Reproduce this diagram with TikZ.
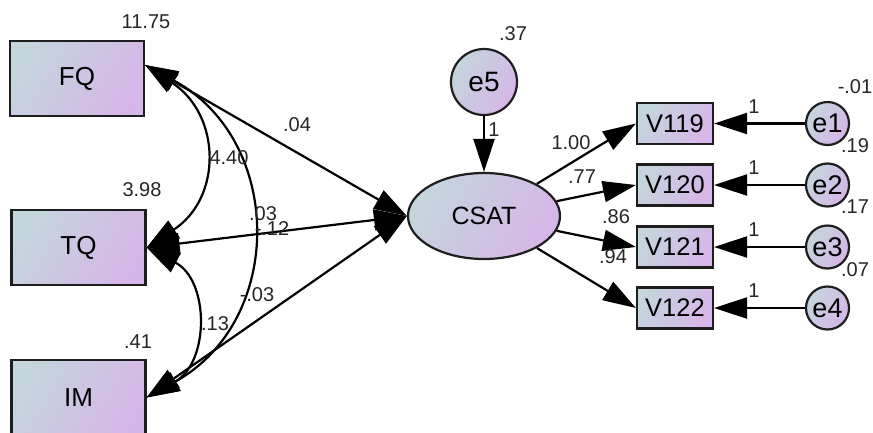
\documentclass[tikz,border=0pt]{standalone}
\usepackage{fontspec}
\setmainfont{Liberation Sans}
\usetikzlibrary{arrows.meta,shapes.geometric}
\definecolor{shA}{RGB}{196,213,220}
\definecolor{shB}{RGB}{214,182,232}
\definecolor{edgegray}{RGB}{30,30,30}
\tikzset{
  grad/.style={left color=shA, right color=shB, shading angle=60},
  obsbox/.style={draw=edgegray, line width=2.2pt, grad, rectangle, inner sep=0pt,
    minimum width=134pt, minimum height=75pt, font=\fontsize{26}{26}\selectfont},
  itembox/.style={draw=edgegray, line width=2.2pt, grad, rectangle, inner sep=0pt,
    minimum width=76pt, minimum height=41pt, font=\fontsize{25.5}{25.5}\selectfont},
  latent/.style={draw=edgegray, line width=2.2pt, grad, ellipse, inner sep=0pt,
    minimum width=152pt, minimum height=86pt, font=\fontsize{25}{25}\selectfont},
  errbig/.style={draw=edgegray, line width=2.2pt, grad, circle, inner sep=0pt,
    minimum size=66pt, font=\fontsize{28}{28}\selectfont},
  errsmall/.style={draw=edgegray, line width=2.2pt, grad, circle, inner sep=0pt,
    minimum size=43pt, font=\fontsize{27}{27}\selectfont},
  lbl/.style={inner sep=0pt, text=black!85, font=\fontsize{20}{20}\selectfont},
  onehead/.style={line width=2.2pt, -{Triangle[length=33pt,width=21pt]}},
  twohead/.style={line width=2.2pt, {Triangle[length=33pt,width=21pt]}-{Triangle[length=33pt,width=21pt]}},
}
\begin{document}
\begin{tikzpicture}[x=1pt,y=-1pt]
\clip (0,0) rectangle (873,432);
\fill[white] (0,0) rectangle (873,432);

% exogenous observed variables
\node[obsbox] (fq) at (77,78.5) {FQ};
\node[obsbox] (tq) at (78.5,247.5) {TQ};
\node[obsbox] (im) at (78.5,397.5) {IM};

% latent factor and its disturbance
\node[latent] (csat) at (484,216) {CSAT};
\node[errbig] (e5) at (484,82) {e5};

% indicators and their errors
\node[itembox] (v119) at (675,123.5) {V119};
\node[itembox] (v120) at (675,185) {V120};
\node[itembox] (v121) at (675,247) {V121};
\node[itembox] (v122) at (675,308) {V122};
\node[errsmall] (e1) at (827.5,123.5) {e1};
\node[errsmall] (e2) at (827.5,185) {e2};
\node[errsmall] (e3) at (827.5,247) {e3};
\node[errsmall] (e4) at (827.5,308) {e4};

\coordinate (fqp) at ([yshift=13.5pt]fq.east);

% covariances among FQ, TQ, IM
\draw[twohead] (fqp) .. controls +(76,50) and +(76,-50) .. (tq.east);
\draw[twohead] (fqp) .. controls +(139,75) and +(139,-77) .. (im.east);
\draw[twohead] (tq.east) .. controls +(63,33) and +(63,-35) .. (im.east);

% paths into CSAT
\draw[twohead] (fqp) -- (csat.west);
\draw[twohead] (tq.east) -- (csat.west);
\draw[twohead] (im.east) -- (csat.west);
\draw[onehead] (e5) -- (csat);

% loadings
\draw[onehead] (csat) -- (v119.west);
\draw[onehead] (csat) -- (v120.west);
\draw[onehead] (csat) -- (v121.west);
\draw[onehead] (csat) -- (v122.west);

% error paths
\draw[onehead] (e1) -- (v119);
\draw[onehead] (e2) -- (v120);
\draw[onehead] (e3) -- (v121);
\draw[onehead] (e4) -- (v122);

% variance estimates
\node[lbl] (vfq) at (146,22) {11.75};
\node[lbl] (vtq) at (142,190) {3.98};
\node[lbl] (vim) at (138,342) {.41};
\node[lbl] (ve5) at (513,34) {.37};
\node[lbl] (ve1) at (855,87) {-.01};
\node[lbl] (ve2) at (855,146) {.19};
\node[lbl] (ve3) at (855,207) {.17};
\node[lbl] (ve4) at (855,270) {.07};

% coefficient estimates
\node[lbl] (c1) at (297,125) {.04};
\node[lbl] (c2) at (229,158) {4.40};
\node[lbl] (c3) at (263,214) {.03};
\node[lbl] (c4) at (272,229) {-.12};
\node[lbl] (c5) at (257,295) {-.03};
\node[lbl] (c6) at (215,324) {.13};
\node[lbl] (c7) at (494,130) {1};
\node[lbl] (l1) at (571,143) {1.00};
\node[lbl] (l2) at (582,177) {.77};
\node[lbl] (l3) at (616,217) {.86};
\node[lbl] (l4) at (613,257) {.94};
\node[lbl] (w1) at (754,107) {1};
\node[lbl] (w2) at (754,168) {1};
\node[lbl] (w3) at (754,230) {1};
\node[lbl] (w4) at (754,291) {1};
\end{tikzpicture}
\end{document}
